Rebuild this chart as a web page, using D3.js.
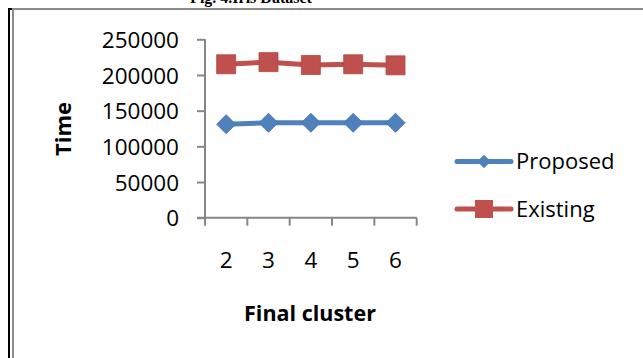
<!DOCTYPE html>
<html>
<head>
<meta charset="utf-8">
<script src="https://cdn.jsdelivr.net/npm/d3@7"></script>
<style>
  html, body { margin: 0; padding: 0; background: #fff; }
  svg { display: block; }
  text { font-family: "Open Sans", "Noto Sans", sans-serif; fill: #000; }
</style>
</head>
<body>
<svg id="chart" width="643" height="358"></svg>
<script>
// Final cluster counts and running time for each method
const categories = ["2", "3", "4", "5", "6"];
const proposed = [131000, 133000, 133000, 133000, 133000];
const existing = [215000, 218000, 214000, 215000, 213500];
const seriesNames = ["Proposed", "Existing"];
const seriesColors = ["#4F81BD", "#C0504D"];
const yTicks = [0, 50000, 100000, 150000, 200000, 250000];

const svg = d3.select("#chart");

// Caption above the frame (mostly clipped by the top edge)
svg.append("text")
  .attr("x", 251).attr("y", 3)
  .attr("text-anchor", "middle")
  .style("font-family", "'Liberation Serif', 'Times New Roman', serif")
  .style("font-weight", "bold")
  .style("font-size", "16px")
  .text("Fig. 4.Iris Dataset");

// Frame: black outer rule and grey inner rule
svg.append("rect").attr("x", 8).attr("y", 8).attr("width", 2).attr("height", 350).attr("fill", "#000");
svg.append("rect").attr("x", 8).attr("y", 8).attr("width", 5).attr("height", 2).attr("fill", "#000");
svg.append("rect").attr("x", 12).attr("y", 8).attr("width", 2).attr("height", 350).attr("fill", "#8c8c8c");
svg.append("rect").attr("x", 12).attr("y", 8).attr("width", 631).attr("height", 2).attr("fill", "#8c8c8c");

const plotLeft = 205, plotRight = 416.7, plotTop = 39.3, plotBottom = 217.7;

const x = d3.scaleBand().domain(categories).range([plotLeft, plotRight]).padding(0);
const y = d3.scaleLinear().domain([0, 250000]).range([plotBottom, plotTop]);

const axisColor = "#868686";

// Y axis
const yAxis = svg.append("g")
  .attr("transform", `translate(${plotLeft},0)`)
  .call(d3.axisLeft(y).tickValues(yTicks).tickSize(8).tickPadding(18).tickFormat(d3.format("d")));
yAxis.select(".domain").attr("stroke", axisColor).attr("stroke-width", 2).attr("d", `M0,${plotTop}V${plotBottom}`);
yAxis.selectAll(".tick line").attr("stroke", axisColor).attr("stroke-width", 2);
yAxis.selectAll(".tick text")
  .style("font-family", "'Open Sans', sans-serif")
  .style("font-size", "22.5px")
  .attr("fill", "#000")
  .attr("dy", "0.36em");

// X axis line with boundary ticks between categories
const gx = svg.append("g");
gx.append("line")
  .attr("x1", plotLeft - 8).attr("x2", plotRight)
  .attr("y1", plotBottom).attr("y2", plotBottom)
  .attr("stroke", axisColor).attr("stroke-width", 2);
const edges = categories.map(c => x(c)).concat([x(categories[categories.length - 1]) + x.bandwidth()]);
gx.selectAll("line.edge").data(edges).enter().append("line")
  .attr("class", "edge")
  .attr("x1", d => d).attr("x2", d => d)
  .attr("y1", plotBottom).attr("y2", plotBottom + 8)
  .attr("stroke", axisColor).attr("stroke-width", 2);
gx.selectAll("text").data(categories).enter().append("text")
  .attr("x", d => x(d) + x.bandwidth() / 2)
  .attr("y", 267.5)
  .attr("text-anchor", "middle")
  .style("font-size", "22.5px")
  .text(d => d);

// Axis titles
svg.append("text")
  .attr("x", 310).attr("y", 320.5)
  .attr("text-anchor", "middle")
  .style("font-weight", "bold")
  .style("font-size", "21.5px")
  .text("Final cluster");
svg.append("text")
  .attr("transform", "translate(71,129) rotate(-90)")
  .attr("text-anchor", "middle")
  .style("font-weight", "bold")
  .style("font-size", "22px")
  .text("Time");

// Series
const cx = d => x(d) + x.bandwidth() / 2;
const line = d3.line().x((d, i) => cx(categories[i])).y(d => y(d));
const diamond = d3.symbol().type(d3.symbolSquare).size(13.5 * 13.5);
const square = d3.symbol().type(d3.symbolSquare).size(19 * 19);

function drawSeries(values, color, shape, rotate) {
  svg.append("path")
    .datum(values)
    .attr("d", line)
    .attr("fill", "none")
    .attr("stroke", color)
    .attr("stroke-width", 5);
  svg.selectAll(null).data(values).enter().append("path")
    .attr("d", shape)
    .attr("transform", (d, i) => `translate(${cx(categories[i])},${y(d)}) rotate(${rotate})`)
    .attr("fill", color)
    .attr("stroke", d3.color(color).darker(0.3))
    .attr("stroke-width", 0.8);
}
drawSeries(existing, seriesColors[1], square, 0);
drawSeries(proposed, seriesColors[0], diamond, 45);

// Legend
const legendY = [161.5, 209];
const legendShapes = [d3.symbol().type(d3.symbolSquare).size(9.5 * 9.5), d3.symbol().type(d3.symbolSquare).size(18 * 18)];
const legendRot = [45, 0];
seriesNames.forEach((name, i) => {
  const g = svg.append("g").attr("transform", `translate(0,${legendY[i]})`);
  g.append("line").attr("x1", 457).attr("x2", 511)
    .attr("stroke", seriesColors[i]).attr("stroke-width", 5).attr("stroke-linecap", "round");
  g.append("path").attr("d", legendShapes[i])
    .attr("transform", `translate(484,0) rotate(${legendRot[i]})`)
    .attr("fill", seriesColors[i]);
  g.append("text").attr("x", 516).attr("y", 0).attr("dy", "0.36em")
    .style("font-size", "22px")
    .text(name);
});
</script>
</body>
</html>
